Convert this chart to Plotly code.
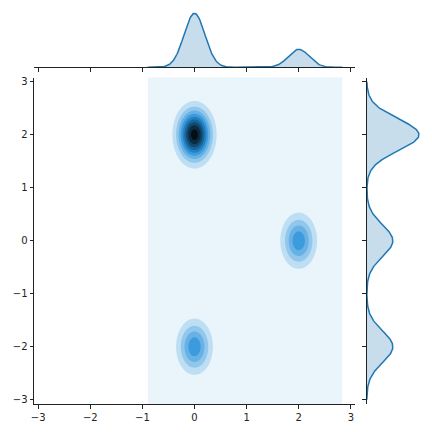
import colorsys
import numpy as np
import plotly.graph_objects as go

# cluster centres, spreads and weights
center_x = [0.0, 2.0, 0.0]
center_y = [2.0, 0.0, -2.0]
sigma_x = [0.2, 0.2, 0.2]
sigma_y = [0.30, 0.30, 0.30]
weights = [0.5, 0.25, 0.25]

# extent of the kde support grid
grid_x = [-0.9, 2.84]
grid_y = [-3.1, 3.1]
marg_y = [-3.0, 3.0]

ticks = [-3, -2, -1, 0, 1, 2, 3]
n_levels = 10

xs = np.linspace(grid_x[0], grid_x[1], 300)
ys = np.linspace(grid_y[0], grid_y[1], 400)
ys_m = np.linspace(marg_y[0], marg_y[1], 400)


def gauss(v, m, s):
    return np.exp(-0.5 * ((v - m) / s) ** 2) / (s * np.sqrt(2 * np.pi))


X, Y = np.meshgrid(xs, ys)
Z = sum(w * gauss(X, mx, sx) * gauss(Y, my, sy)
        for w, mx, my, sx, sy in zip(weights, center_x, center_y, sigma_x, sigma_y))
fx = sum(w * gauss(xs, mx, sx) for w, mx, sx in zip(weights, center_x, sigma_x))
fy = sum(w * gauss(ys_m, my, sy) for w, my, sy in zip(weights, center_y, sigma_y))

# seaborn-like palette: hue of C0 from white to black
h, l, s = colorsys.rgb_to_hls(31 / 255, 119 / 255, 180 / 255)
pal = [colorsys.hls_to_rgb(h, li, s) for li in np.linspace(1, 0, 12)]


def cmap(v):
    p = v * (len(pal) - 1)
    i = min(int(p), len(pal) - 2)
    f = p - i
    c = [pal[i][k] * (1 - f) + pal[i + 1][k] * f for k in range(3)]
    return "rgb(%d,%d,%d)" % tuple(round(255 * x) for x in c)


top = Z.max() * 1.05
step = top / n_levels
colorscale = [[j / (n_levels - 1), cmap((j + 0.5) / n_levels)] for j in range(n_levels)]

fig = go.Figure()
fig.add_trace(go.Contour(
    x=xs, y=ys, z=Z,
    contours=dict(start=step, end=step * (n_levels - 1), size=step,
                  coloring="fill", showlines=False),
    line=dict(width=0),
    colorscale=colorscale, showscale=False, hoverinfo="skip",
))
fig.add_trace(go.Scatter(
    x=xs, y=fx, mode="lines", fill="tozeroy",
    line=dict(color="#1f77b4", width=1.5),
    fillcolor="rgba(31,119,180,0.25)",
    xaxis="x2", yaxis="y2",
))
fig.add_trace(go.Scatter(
    x=fy, y=ys_m, mode="lines", fill="tozerox",
    line=dict(color="#1f77b4", width=1.5),
    fillcolor="rgba(31,119,180,0.25)",
    xaxis="x3", yaxis="y3",
))

axcol = "#222222"
tickstyle = dict(ticks="outside", ticklen=3.5, tickwidth=0.8, tickcolor=axcol,
                 showline=True, linecolor=axcol, linewidth=1, automargin=False,
                 showgrid=False, zeroline=False, tickvals=ticks)

fig.update_layout(
    width=432, height=432,
    margin=dict(l=0, r=0, t=0, b=0, autoexpand=False),
    paper_bgcolor="white", plot_bgcolor="white",
    showlegend=False,
    font=dict(family="DejaVu Sans", size=10, color=axcol),
    xaxis=dict(domain=[34 / 432, 355 / 432], range=[-3.08, 3.08],
               anchor="y", **tickstyle),
    yaxis=dict(domain=[1 - 404 / 432, 1 - 77.5 / 432], range=[-3.08, 3.08],
               anchor="x", **tickstyle),
    xaxis2=dict(domain=[34 / 432, 355 / 432], matches="x", anchor="y2",
                showticklabels=False, **tickstyle),
    yaxis2=dict(domain=[1 - 67.3 / 432, 1 - 2 / 432], range=[0, fx.max() * 1.21],
                visible=False),
    xaxis3=dict(domain=[366.7 / 432, 1.0], range=[0, fy.max() * 1.25],
                visible=False),
    yaxis3=dict(domain=[1 - 404 / 432, 1 - 77.5 / 432], matches="y", anchor="x3",
                showticklabels=False, **tickstyle),
)

fig.write_html("out.html", config={"displayModeBar": False},
               post_script="document.body.style.margin='0';")
